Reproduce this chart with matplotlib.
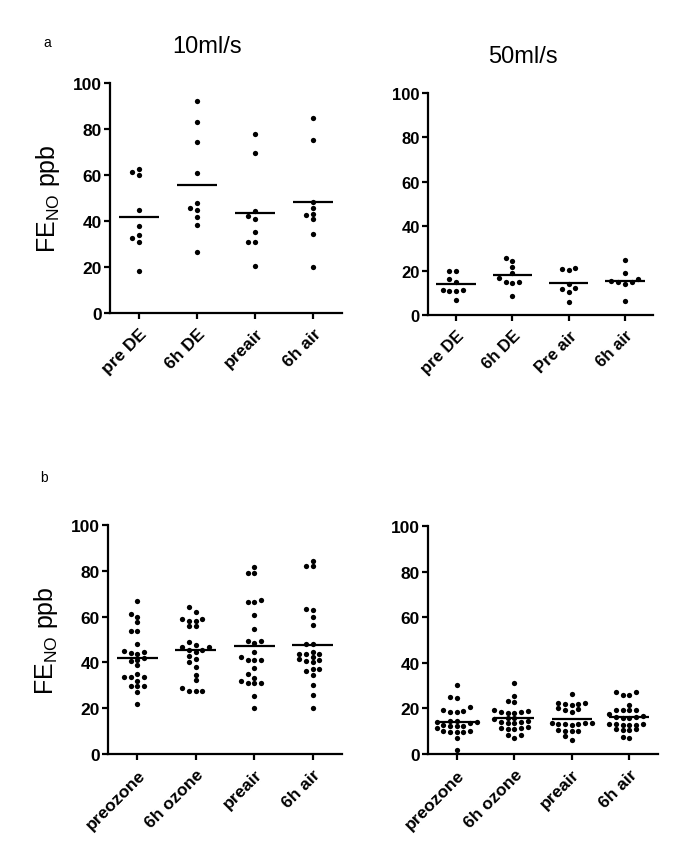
import matplotlib
matplotlib.use('Agg')
import matplotlib.pyplot as plt
import numpy as np

plt.rcParams['font.family'] = ['Liberation Sans', 'DejaVu Sans']
plt.rcParams['mathtext.fontset'] = 'custom'
plt.rcParams['mathtext.rm'] = 'Liberation Sans'

# panel a, 10 ml/s
a10_labels = ['pre DE', '6h DE', 'preair', '6h air']
a10_pre_de = [61.2, 60.1, 62.6, 44.9, 38.0, 32.5, 33.9, 31.0, 18.4]
a10_6h_de = [92.0, 83.2, 74.2, 60.7, 47.8, 45.5, 44.9, 41.6, 38.3, 26.4]
a10_preair = [77.8, 69.6, 44.2, 42.3, 40.9, 35.1, 31.0, 31.0, 20.3]
a10_6h_air = [84.6, 75.2, 48.4, 45.5, 43.0, 42.6, 40.9, 34.2, 19.9]
a10_means = [41.7, 55.7, 43.6, 48.4]

# panel a, 50 ml/s
a50_labels = ['pre DE', '6h DE', 'Pre air', '6h air']
a50_pre_de = [20.0, 20.0, 16.2, 15.0, 11.4, 11.2, 11.0, 10.8, 6.6]
a50_6h_de = [25.5, 24.5, 21.8, 18.9, 16.5, 14.9, 14.7, 14.5, 8.7]
a50_pre_air = [20.7, 20.5, 21.0, 14.0, 12.2, 11.8, 10.2, 6.0]
a50_6h_air = [24.9, 18.9, 16.0, 15.5, 15.0, 15.0, 14.0, 6.4]
a50_means = [13.8, 18.0, 14.3, 15.3]

# panel b, 10 ml/s
b10_labels = ['preozone', '6h ozone', 'preair', '6h air']
b10_preozone = [66.9, 61.1, 59.7, 57.5, 53.8, 53.8, 48.0, 45.0, 44.0, 43.5,
                44.5, 42.0, 41.0, 40.5, 38.9, 35.0, 33.5, 33.5, 33.5, 32.0,
                29.8, 29.8, 29.8, 26.9, 21.8]
b10_6h_ozone = [64.0, 62.1, 59.0, 59.0, 58.1, 58.1, 56.0, 56.0, 49.0, 47.7,
                46.6, 46.6, 45.5, 45.5, 44.7, 41.5, 42.8, 40.0, 38.2, 34.5,
                32.3, 28.8, 27.7, 27.7, 27.7]
b10_preair = [81.5, 79.0, 79.0, 66.5, 66.5, 67.2, 60.8, 54.6, 49.2, 49.2,
              48.3, 44.4, 42.2, 41.2, 41.2, 41.2, 37.4, 34.9, 33.2, 30.8,
              30.8, 30.8, 31.9, 25.5, 20.2]
b10_6h_air = [84.4, 82.2, 82.2, 63.3, 62.9, 60.0, 56.3, 48.0, 48.0, 44.4,
              43.7, 43.7, 43.7, 42.2, 41.5, 41.0, 40.5, 40.0, 37.1, 37.1,
              36.4, 34.5, 30.1, 25.8, 19.9]
b10_means = [41.8, 45.5, 47.3, 47.6]

# panel b, 50 ml/s
b50_labels = ['preozone', '6h ozone', 'preair', '6h air']
b50_preozone = [30.3, 24.9, 24.7, 20.5, 19.4, 18.6, 18.5, 18.7, 13.7, 13.9,
                14.1, 14.4, 14.7, 12.2, 12.4, 12.5, 12.6, 11.3, 9.6, 9.7,
                9.8, 9.9, 10.0, 6.9, 1.9]
b50_6h_ozone = [31.1, 25.6, 23.2, 22.7, 19.3, 18.0, 18.2, 18.4, 18.6, 19.0,
                15.5, 15.8, 16.0, 13.6, 13.8, 14.0, 14.2, 14.4, 10.9, 11.1,
                11.3, 11.5, 11.9, 8.3, 8.5, 6.9]
b50_preair = [26.3, 22.3, 21.8, 21.5, 21.9, 22.4, 20.0, 19.7, 19.5, 18.3,
              13.6, 13.2, 13.0, 12.8, 13.1, 13.4, 13.8, 10.4, 10.2, 10.0,
              10.3, 8.0, 6.1]
b50_6h_air = [27.3, 27.0, 25.9, 25.9, 21.5, 19.3, 19.3, 19.4, 19.2, 17.5,
              16.5, 16.3, 16.1, 15.9, 16.0, 13.2, 12.9, 12.6, 12.8, 13.0,
              13.3, 10.8, 10.5, 10.6, 10.9, 7.3, 7.0]
b50_means = [14.2, 15.8, 15.2, 16.1]


def swarm_x(values, ax, center, dy_px=4.6, step_px=6.7):
    # slot beeswarm: lowest value first, each dot takes the first free column
    # in the order 0, -1, +1, -2, +2 ...
    bb = ax.get_window_extent()
    x0, x1 = ax.get_xlim()
    y0, y1 = ax.get_ylim()
    kx = bb.width / (x1 - x0)
    ky = bb.height / (y1 - y0)
    ys = np.asarray(values, float) * ky
    slots = np.zeros(len(ys), int)
    placed = []
    order = [0] + [s for k in range(1, 20) for s in (-k, k)]
    for i in np.argsort(ys, kind='stable'):
        for s in order:
            if all(slots[j] != s or abs(ys[i] - ys[j]) >= dy_px for j in placed):
                slots[i] = s
                break
        placed.append(i)
    return center + slots * step_px / kx


def dot_panel(ax, labels, groups, means, fs):
    ax.set_xlim(-0.5, 3.5)
    ax.set_ylim(0, 100)
    for k, vals in enumerate(groups):
        ax.plot(swarm_x(vals, ax, k), vals, 'o', color='black', ms=3.8, mew=0,
                clip_on=False, zorder=3)
        ax.hlines(means[k], k - 0.35, k + 0.35, color='black', lw=1.6, zorder=4)
    for s in ['top', 'right']:
        ax.spines[s].set_visible(False)
    for s in ['left', 'bottom']:
        ax.spines[s].set_linewidth(1.6)
    ax.set_yticks(np.arange(0, 101, 20))
    ax.set_xticks(range(4))
    ax.set_xticklabels(labels, rotation=45, ha='right', va='top',
                       rotation_mode='anchor', fontweight='bold', fontsize=fs)
    for t in ax.get_yticklabels():
        t.set_fontweight('bold')
        t.set_fontsize(fs)
    ax.tick_params(width=1.6, length=4, pad=2)
    ax.tick_params(axis='x', pad=5)


fig = plt.figure(figsize=(6.85, 8.62), dpi=100)
ax1 = fig.add_axes([0.1606, 0.6357, 0.3387, 0.2668])
ax2 = fig.add_axes([0.6248, 0.6334, 0.3285, 0.2575])
ax3 = fig.add_axes([0.1577, 0.1241, 0.3416, 0.2657])
ax4 = fig.add_axes([0.6248, 0.1241, 0.3358, 0.2645])

dot_panel(ax1, a10_labels, [a10_pre_de, a10_6h_de, a10_preair, a10_6h_air], a10_means, 12.5)
dot_panel(ax2, a50_labels, [a50_pre_de, a50_6h_de, a50_pre_air, a50_6h_air], a50_means, 12)
dot_panel(ax3, b10_labels, [b10_preozone, b10_6h_ozone, b10_preair, b10_6h_air], b10_means, 12.5)
dot_panel(ax4, b50_labels, [b50_preozone, b50_6h_ozone, b50_preair, b50_6h_air], b50_means, 12.5)

for ax in (ax1, ax3):
    ax.set_ylabel('FE$_{\\mathrm{NO}}$ ppb', fontsize=18)
    ax.yaxis.set_label_coords(-0.207, 0.5)

fig.text(207 / 685, 1 - 47 / 862, '10ml/s', fontsize=17, ha='center', va='center')
fig.text(523 / 685, 1 - 57 / 862, '50ml/s', fontsize=17, ha='center', va='center')
fig.text(47 / 685, 1 - 43 / 862, 'a', fontsize=10, ha='center', va='center')
fig.text(44 / 685, 1 - 478 / 862, 'b', fontsize=10, ha='center', va='center')

fig.savefig('out.png', dpi=100, facecolor='white')
